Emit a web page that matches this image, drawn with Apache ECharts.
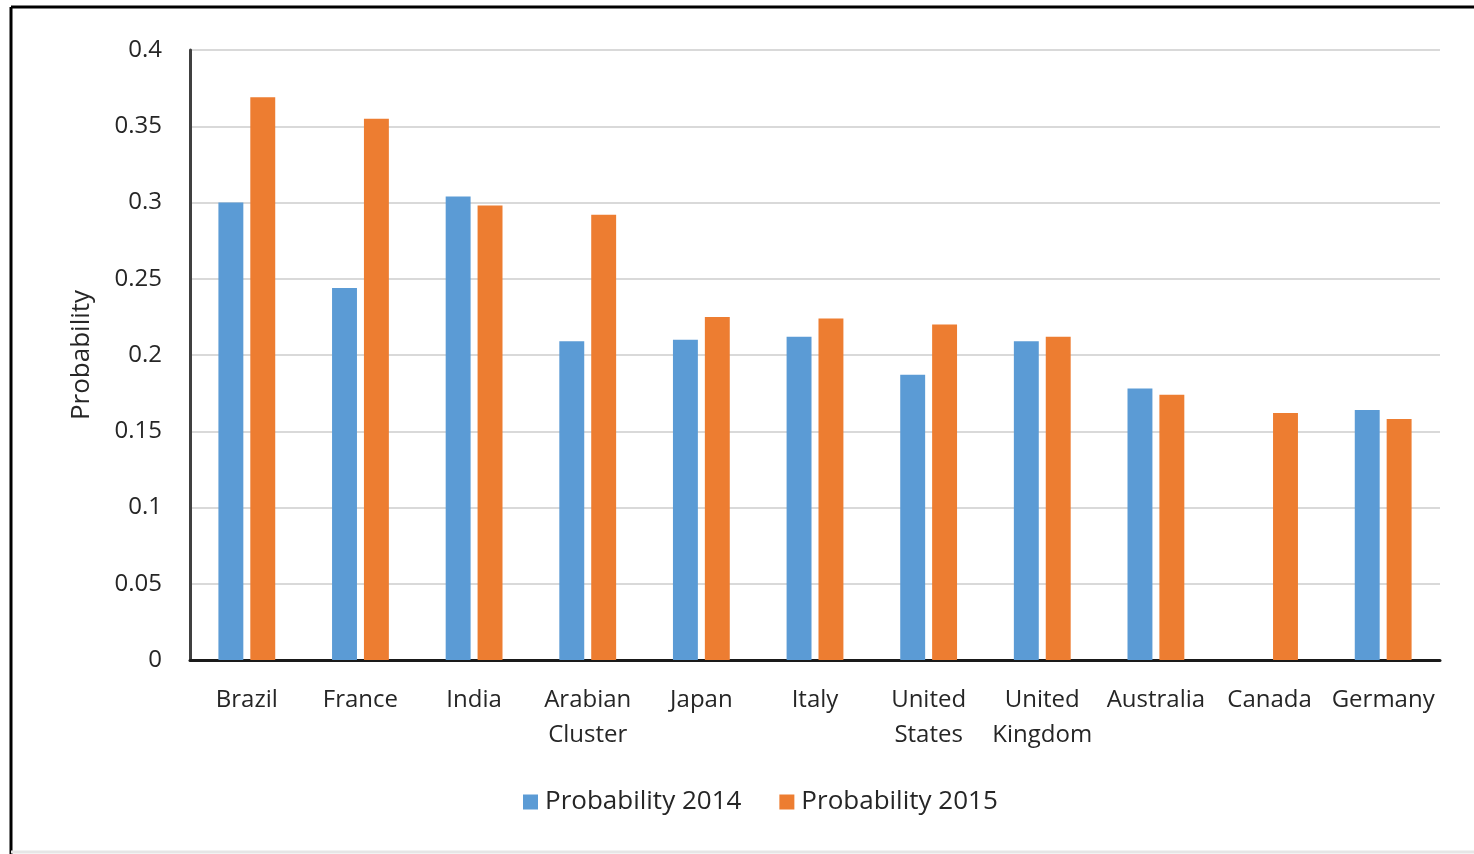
<!DOCTYPE html>
<html>
<head>
<meta charset="utf-8">
<script src="https://cdn.jsdelivr.net/npm/echarts@6/dist/echarts.min.js"></script>
<style>
  html, body { margin: 0; padding: 0; background: #fff; }
  #chart { width: 1474px; height: 854px; }
</style>
</head>
<body>
<div id="chart"></div>
<script>
// 国家 / 类别
const countries = ["Brazil", "France", "India", "Arabian\nCluster", "Japan", "Italy",
  "United\nStates", "United\nKingdom", "Australia", "Canada", "Germany"];
// Canada has no 2014 bar
const prob2014 = [0.300, 0.244, 0.304, 0.209, 0.210, 0.212, 0.187, 0.209, 0.178, null, 0.164];
const prob2015 = [0.369, 0.355, 0.298, 0.292, 0.225, 0.224, 0.220, 0.212, 0.174, 0.162, 0.158];
const yTicks = { min: 0, max: 0.4, interval: 0.05 };

const font = "'Open Sans', 'DejaVu Sans', sans-serif";

const chart = echarts.init(document.getElementById("chart"), null, { renderer: "canvas" });

chart.setOption({
  backgroundColor: "#fff",
  animation: false,
  graphic: [
    // 外框
    { type: "line", shape: { x1: 11, y1: 7, x2: 1474, y2: 7 }, style: { stroke: "#000", lineWidth: 3 } },
    { type: "line", shape: { x1: 11, y1: 7, x2: 11, y2: 854 }, style: { stroke: "#000", lineWidth: 3 } },
    { type: "line", shape: { x1: 11, y1: 852, x2: 1474, y2: 852 }, style: { stroke: "#e6e6e6", lineWidth: 3 } }
  ],
  grid: { left: 190, right: 34, top: 50, bottom: 194 },
  legend: {
    data: ["Probability 2014", "Probability 2015"],
    bottom: 34,
    left: 518,
    icon: "rect",
    itemWidth: 15,
    itemHeight: 15,
    itemGap: 38,
    itemStyle: { borderWidth: 0 },
    textStyle: { color: "#262626", fontSize: 26, fontFamily: font, padding: [0, 0, 0, 2] }
  },
  xAxis: {
    type: "category",
    data: countries,
    axisLine: { lineStyle: { color: "#1a1a1a", width: 3 } },
    axisTick: { show: false },
    axisLabel: {
      color: "#262626",
      fontSize: 24,
      fontFamily: font,
      lineHeight: 35,
      margin: 23,
      interval: 0
    }
  },
  yAxis: {
    type: "value",
    min: yTicks.min,
    max: yTicks.max,
    interval: yTicks.interval,
    name: "Probability",
    nameLocation: "middle",
    nameGap: 95,
    nameTextStyle: { color: "#262626", fontSize: 26, fontFamily: font },
    axisLine: { show: true, lineStyle: { color: "#404040", width: 3 } },
    axisTick: { show: false },
    axisLabel: {
      color: "#262626",
      fontSize: 24,
      fontFamily: font,
      margin: 28,
      formatter: (v) => String(Math.round(v * 100) / 100)
    },
    splitLine: { lineStyle: { color: "#d9d9d9", width: 2 } }
  },
  series: [
    {
      name: "Probability 2014",
      type: "bar",
      data: prob2014,
      barGap: "28%",
      barCategoryGap: "50%",
      itemStyle: { color: "#5B9BD5" }
    },
    {
      name: "Probability 2015",
      type: "bar",
      data: prob2015,
      itemStyle: { color: "#ED7D31" }
    }
  ]
});
</script>
</body>
</html>
